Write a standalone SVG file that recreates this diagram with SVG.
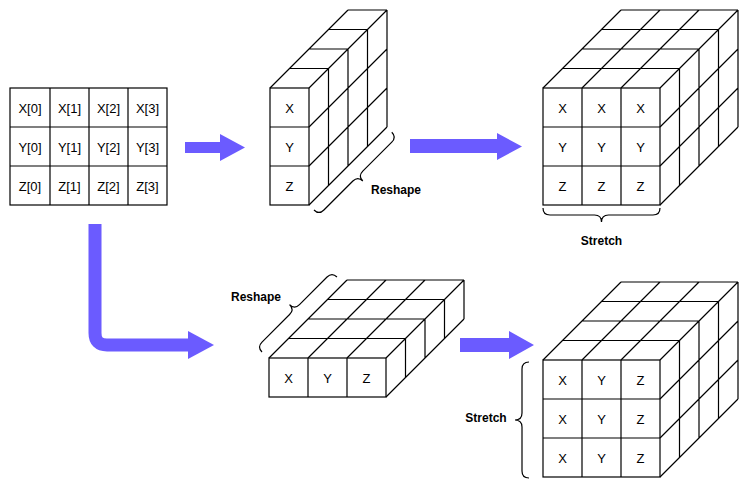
<svg xmlns="http://www.w3.org/2000/svg" width="750" height="490" viewBox="0 0 750 490">
<style>
.l{stroke:#000;stroke-width:1.2;fill:none}
.t{font-family:"Liberation Sans",Arial,sans-serif;font-size:13px;text-anchor:middle;dominant-baseline:central;fill:#000}
.b{font-family:"Liberation Sans",Arial,sans-serif;font-size:12px;font-weight:bold;text-anchor:middle;dominant-baseline:central;fill:#000}
.a{fill:#6b5bff}
</style>
<rect width="750" height="490" fill="#fff"/>
<g id="matrix">
<rect class="l" x="10" y="88" width="157" height="117"/>
<path class="l" d="M50,88V205M89,88V205M128,88V205M10,127H167M10,166H167"/>
<text class="t" x="30" y="108">X[0]</text><text class="t" x="69.5" y="108">X[1]</text><text class="t" x="108.5" y="108">X[2]</text><text class="t" x="147.5" y="108">X[3]</text>
<text class="t" x="30" y="147">Y[0]</text><text class="t" x="69.5" y="147">Y[1]</text><text class="t" x="108.5" y="147">Y[2]</text><text class="t" x="147.5" y="147">Y[3]</text>
<text class="t" x="30" y="186">Z[0]</text><text class="t" x="69.5" y="186">Z[1]</text><text class="t" x="108.5" y="186">Z[2]</text><text class="t" x="147.5" y="186">Z[3]</text>
</g>
<g id="boxA">
<rect class="l" x="270" y="88" width="39" height="117"/>
<path class="l" d="M270,127H309M270,166H309M270,88L348,10M309,88L387,10M289.5,68.5H328.5M309,49H348M328.5,29.5H367.5M348,10H387M309,127L387,49M309,166L387,88M309,205L387,127M328.5,68.5V185.5M348,49V166M367.5,29.5V146.5M387,10V127"/>
<text class="t" x="289.5" y="108">X</text><text class="t" x="289.5" y="147">Y</text><text class="t" x="289.5" y="186">Z</text>
</g>
<g id="boxB">
<rect class="l" x="543" y="88" width="117" height="117"/>
<path class="l" d="M582,88V205M621,88V205M543,127H660M543,166H660M543,88L621,10M582,88L660,10M621,88L699,10M660,88L738,10M562.5,68.5H679.5M582,49H699M601.5,29.5H718.5M621,10H738M660,127L738,49M660,166L738,88M660,205L738,127M679.5,68.5V185.5M699,49V166M718.5,29.5V146.5M738,10V127"/>
<text class="t" x="562.5" y="108">X</text><text class="t" x="601.5" y="108">X</text><text class="t" x="640.5" y="108">X</text>
<text class="t" x="562.5" y="147">Y</text><text class="t" x="601.5" y="147">Y</text><text class="t" x="640.5" y="147">Y</text>
<text class="t" x="562.5" y="186">Z</text><text class="t" x="601.5" y="186">Z</text><text class="t" x="640.5" y="186">Z</text>
</g>
<g id="boxC">
<rect class="l" x="269" y="358" width="117" height="39"/>
<path class="l" d="M308,358V397M347,358V397M269,358L347,280M308,358L386,280M347,358L425,280M386,358L464,280M288.5,338.5H405.5M308,319H425M327.5,299.5H444.5M347,280H464M386,397L464,319M405.5,338.5V377.5M425,319V358M444.5,299.5V338.5M464,280V319"/>
<text class="t" x="288.5" y="378">X</text><text class="t" x="327.5" y="378">Y</text><text class="t" x="366.5" y="378">Z</text>
</g>
<g id="boxD">
<rect class="l" x="543" y="360" width="117" height="117"/>
<path class="l" d="M582,360V477M621,360V477M543,399H660M543,438H660M543,360L621,282M582,360L660,282M621,360L699,282M660,360L738,282M562.5,340.5H679.5M582,321H699M601.5,301.5H718.5M621,282H738M660,399L738,321M660,438L738,360M660,477L738,399M679.5,340.5V457.5M699,321V438M718.5,301.5V418.5M738,282V399"/>
<text class="t" x="562.5" y="380">X</text><text class="t" x="601.5" y="380">Y</text><text class="t" x="640.5" y="380">Z</text>
<text class="t" x="562.5" y="419">X</text><text class="t" x="601.5" y="419">Y</text><text class="t" x="640.5" y="419">Z</text>
<text class="t" x="562.5" y="458">X</text><text class="t" x="601.5" y="458">Y</text><text class="t" x="640.5" y="458">Z</text>
</g>
<g id="braces">
<path class="l" transform="translate(314,210) rotate(-45)" d="M0,0Q0,7 7,7H48Q55,7 55,14Q55,7 62,7H103Q110,7 110,0"/>
<text class="b" x="396" y="190">Reshape</text>
<path class="l" transform="translate(543,208)" d="M0,0Q0,7 7,7H51.5Q58.5,7 58.5,14Q58.5,7 65.5,7H110Q117,7 117,0"/>
<text class="b" x="601.5" y="241">Stretch</text>
<path class="l" transform="translate(262,352) rotate(-45) scale(1,-1)" d="M0,0Q0,7 7,7H46Q53,7 53,14Q53,7 60,7H99Q106,7 106,0"/>
<text class="b" x="256" y="297">Reshape</text>
<path class="l" transform="translate(529,362) rotate(90)" d="M0,0Q0,7 7,7H51Q58,7 58,14Q58,7 65,7H109Q116,7 116,0"/>
<text class="b" x="486" y="418">Stretch</text>
</g>
<g id="connectors">
<path class="a" d="M185,142H220V134L245,147.5L220,161V153H185Z"/>
<path class="a" d="M410,139H497V133L522,146.5L497,160V153H410Z"/>
<path d="M95,224V333Q95,345 107,345H190" fill="none" stroke="#6b5bff" stroke-width="13"/>
<path class="a" d="M188,331L214,345L188,359Z"/>
<path class="a" d="M460,338H509V331L534,345L509,359V352H460Z"/>
</g>
</svg>
